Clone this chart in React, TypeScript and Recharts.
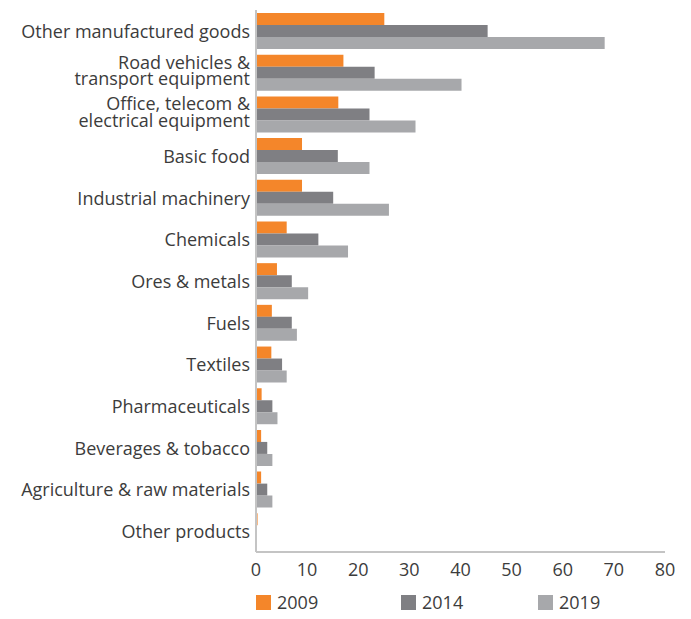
import React from "react";
import { BarChart, Bar, XAxis, YAxis, Legend } from "recharts";

const categories = [
  "Other manufactured goods",
  "Road vehicles &\ntransport equipment",
  "Office, telecom &\nelectrical equipment",
  "Basic food",
  "Industrial machinery",
  "Chemicals",
  "Ores & metals",
  "Fuels",
  "Textiles",
  "Pharmaceuticals",
  "Beverages & tobacco",
  "Agriculture & raw materials",
  "Other products",
];
const values2009 = [25.1, 17.1, 16.1, 9, 9, 6, 4.1, 3.1, 3, 1.1, 1, 1, 0.3];
const values2014 = [45.3, 23.2, 22.2, 16, 15.1, 12.2, 7, 7, 5.1, 3.2, 2.2, 2.2, 0.2];
const values2019 = [68.2, 40.2, 31.2, 22.2, 26, 18, 10.2, 8, 6, 4.2, 3.2, 3.2, 0.1];
const xTicks = [0, 10, 20, 30, 40, 50, 60, 70, 80];
const seriesNames = ["2009", "2014", "2019"];
const colors = ["#F4862A", "#7F7F83", "#A7A8AB"];

const data = categories.map((c, i) => ({
  name: c,
  y2009: values2009[i],
  y2014: values2014[i],
  y2019: values2019[i],
}));

const FONT = "'Open Sans', sans-serif";
const TEXT = "#3c3c3c";

const YTick = (props: any) => {
  const { x, y, payload } = props;
  const lines = String(payload.value).split("\n");
  const lh = 16.5;
  const first = lines.length > 1 ? -4 : 7;
  return (
    <text x={x} y={y} textAnchor="end" fill={TEXT} fontSize={18} fontFamily={FONT}>
      {lines.map((l, i) => (
        <tspan key={i} x={x} dy={i === 0 ? first : lh}>
          {l}
        </tspan>
      ))}
    </text>
  );
};

const LegendContent = () => (
  <div style={{ position: "relative", height: 20, fontFamily: FONT, fontSize: 18, color: TEXT }}>
    {seriesNames.map((n, i) => (
      <div
        key={n}
        style={{ position: "absolute", left: [0, 145, 282][i], top: 0, display: "flex", alignItems: "center" }}
      >
        <span style={{ display: "inline-block", width: 15, height: 15, background: colors[i], marginRight: 6 }} />
        <span style={{ lineHeight: "20px" }}>{n}</span>
      </div>
    ))}
  </div>
);

export default function App() {
  return (
    <div style={{ position: "absolute", left: 0, top: 0, width: 691, height: 619, background: "#fff" }}>
      <BarChart
        width={691}
        height={619}
        data={data}
        layout="vertical"
        margin={{ top: 10, right: 26, bottom: 0, left: 0 }}
        barCategoryGap={3}
        barGap={0}
      >
        <XAxis
          type="number"
          domain={[0, 80]}
          ticks={xTicks}
          interval={0}
          tickLine={false}
          tickSize={6}
          tickMargin={5}
          axisLine={{ stroke: "#c4c4c4", strokeWidth: 2 }}
          tick={{ fill: TEXT, fontSize: 18, fontFamily: FONT }}
          height={40}
        />
        <YAxis
          type="category"
          dataKey="name"
          width={256}
          interval={0}
          tickLine={false}
          tickSize={4}
          tickMargin={2}
          axisLine={{ stroke: "#c4c4c4", strokeWidth: 2 }}
          tick={<YTick />}
        />
        <Legend
          verticalAlign="bottom"
          content={<LegendContent />}
          wrapperStyle={{ left: 256, width: 435, height: 27 }}
        />
        <Bar dataKey="y2009" name="2009" fill={colors[0]} isAnimationActive={false} />
        <Bar dataKey="y2014" name="2014" fill={colors[1]} isAnimationActive={false} />
        <Bar dataKey="y2019" name="2019" fill={colors[2]} isAnimationActive={false} />
      </BarChart>
    </div>
  );
}
